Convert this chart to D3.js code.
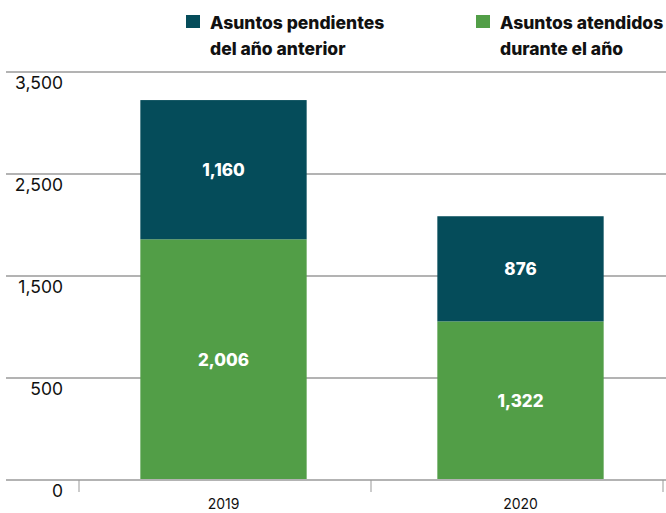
<!DOCTYPE html>
<html>
<head>
<meta charset="utf-8">
<script src="https://cdn.jsdelivr.net/npm/d3@7"></script>
<style>
  body { margin: 0; background: #fff; }
  svg { display: block; font-family: Inter, "Noto Sans", sans-serif; }
</style>
</head>
<body>
<svg width="666" height="513"></svg>
<script>
// Data
var years = ["2019", "2020"];
var pendientes = [1160, 876];
var atendidos = [2006, 1322];
var tickLabels = ["0", "500", "1,500", "2,500", "3,500"];
var seriesNames = ["Asuntos pendientes\ndel año anterior", "Asuntos atendidos\ndurante el año"];
var colors = ["#054c5a", "#529e47"];

var svg = d3.select("svg"),
  width = +svg.attr("width"),
  height = +svg.attr("height");

var baseY = 480, topY = 72;

// Scales
var x = d3.scaleBand()
  .domain(years)
  .range([75, 669])
  .paddingInner(0.44)
  .paddingOuter(0.22);

// category separators on the x axis
var sep = d3.scaleLinear()
  .domain([0, years.length])
  .range([79, 663]);

var y = d3.scaleLinear()
  .domain([0, 3400])
  .range([baseY, topY]);

// gridlines are evenly spaced, labelled below each line
var grid = d3.scalePoint()
  .domain(tickLabels)
  .range([baseY, topY]);

svg.append("g")
  .selectAll("line")
  .data(tickLabels)
  .enter().append("line")
    .attr("x1", 6)
    .attr("x2", width)
    .attr("y1", function(d) { return grid(d); })
    .attr("y2", function(d) { return grid(d); })
    .style("stroke", "#b3b3b3")
    .style("stroke-width", 2);

svg.append("g")
  .selectAll("text")
  .data(tickLabels)
  .enter().append("text")
    .attr("x", 63)
    .attr("y", function(d) { return grid(d) + 17; })
    .attr("text-anchor", "end")
    .style("font-size", "17.5px")
    .style("fill", "#111")
    .text(function(d) { return d; });

// stacked data
var rows = years.map(function(yr, i) {
  return { year: yr, atendidos: atendidos[i], pendientes: pendientes[i] };
});
var stack = d3.stack().keys(["atendidos", "pendientes"]);
var layers = stack(rows);

var layer = svg.append("g")
  .selectAll("g")
  .data(layers)
  .enter().append("g")
    .attr("fill", function(d, i) { return i === 0 ? colors[1] : colors[0]; });

layer.selectAll("rect")
  .data(function(d) { return d; })
  .enter().append("rect")
    .attr("x", function(d) { return x(d.data.year); })
    .attr("y", function(d) { return y(d[1]); })
    .attr("width", x.bandwidth())
    .attr("height", function(d) { return y(d[0]) - y(d[1]); });

layer.selectAll("text")
  .data(function(d) { return d; })
  .enter().append("text")
    .attr("x", function(d) { return x(d.data.year) + x.bandwidth() / 2; })
    .attr("y", function(d) { return (y(d[0]) + y(d[1])) / 2 + 6; })
    .attr("text-anchor", "middle")
    .style("fill", "#fff")
    .style("font-weight", 800)
    .style("font-size", "17px")
    .text(function(d) { return d3.format(",")(d[1] - d[0]); });

// x axis
svg.append("line")
  .attr("x1", 6).attr("x2", width)
  .attr("y1", baseY).attr("y2", baseY)
  .style("stroke", "#b3b3b3")
  .style("stroke-width", 2);

svg.append("g")
  .selectAll("line")
  .data(d3.range(years.length + 1))
  .enter().append("line")
    .attr("x1", function(d) { return sep(d); })
    .attr("x2", function(d) { return sep(d); })
    .attr("y1", baseY).attr("y2", baseY + 12)
    .style("stroke", "#999")
    .style("stroke-width", 1);

svg.append("g")
  .selectAll("text")
  .data(years)
  .enter().append("text")
    .attr("x", function(d) { return x(d) + x.bandwidth() / 2; })
    .attr("y", 509)
    .attr("text-anchor", "middle")
    .style("font-size", "14px")
    .style("fill", "#111")
    .text(function(d) { return d; });

// Legend
var legendX = [186, 476];
var legend = svg.append("g")
  .selectAll("g")
  .data(seriesNames)
  .enter().append("g")
    .attr("transform", function(d, i) { return "translate(" + legendX[i] + ",0)"; });

legend.append("rect")
  .attr("x", 0).attr("y", 15)
  .attr("width", 14).attr("height", 13)
  .attr("fill", function(d, i) { return colors[i]; });

legend.append("text")
  .attr("y", 29)
  .style("font-weight", 800)
  .style("font-size", "17.5px")
  .style("fill", "#111")
  .selectAll("tspan")
  .data(function(d) { return d.split("\n"); })
  .enter().append("tspan")
    .attr("x", 24)
    .attr("dy", function(d, i) { return i === 0 ? 0 : 26; })
    .text(function(d) { return d; });
</script>
</body>
</html>
